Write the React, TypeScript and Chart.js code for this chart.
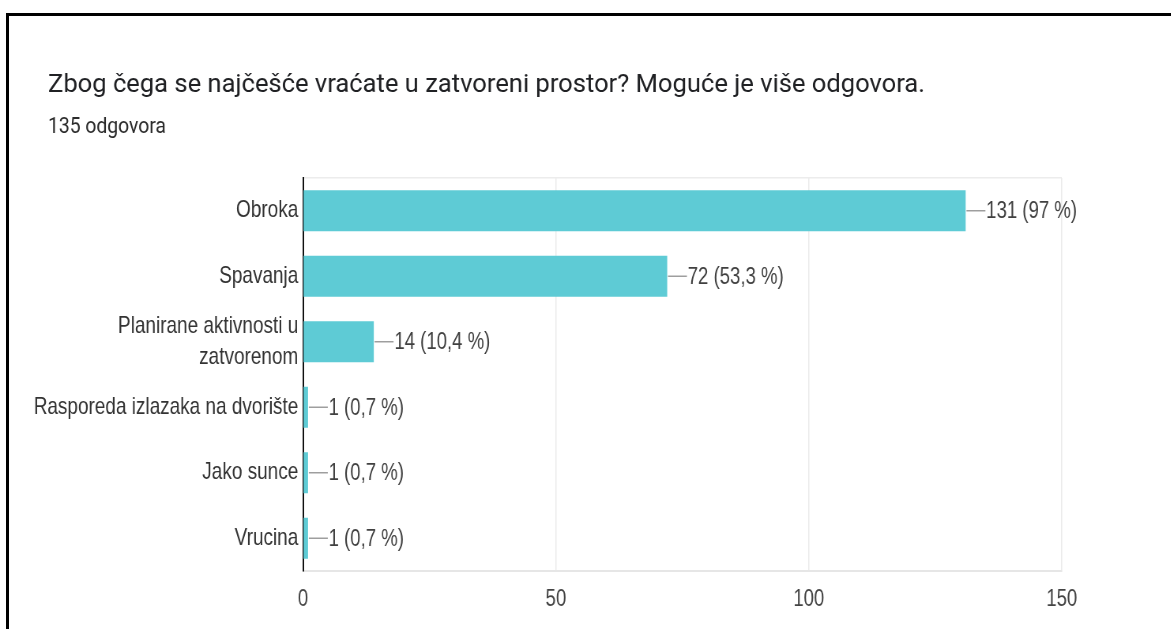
import React, { useEffect, useRef } from "react";
import { Chart, registerables } from "chart.js";

Chart.register(...registerables);

const categories: (string | string[])[] = [
  "Obroka",
  "Spavanja",
  ["Planirane aktivnosti u", "zatvorenom"],
  "Rasporeda izlazaka na dvorište",
  "Jako sunce",
  "Vrucina",
];
const counts = [131, 72, 14, 1, 1, 1];
const totalResponses = 135;
const xTicks = [0, 50, 100, 150];
const titleText = "Zbog čega se najčešće vraćate u zatvoreni prostor? Moguće je više odgovora.";
const subtitleText = `${totalResponses} odgovora`;

const SQUEEZE = 0.79;
const W = 1482;
const H = 629;
const LABEL_FONT = "'Liberation Sans', Arial, sans-serif";
const TITLE_FONT = "Roboto, 'Noto Sans', sans-serif";

function pctLabel(v: number): string {
  const p = Math.round((v / totalResponses) * 1000) / 10;
  const s = Number.isInteger(p) ? String(p) : p.toFixed(1).replace(".", ",");
  return `${v} (${s} %)`;
}

function drawFitted(ctx: CanvasRenderingContext2D, text: string, x: number, y: number, font: string, targetW: number) {
  ctx.font = font;
  const w = ctx.measureText(text).width;
  const k = targetW / SQUEEZE / w;
  ctx.save();
  ctx.translate(x, y);
  ctx.scale(k, 1);
  ctx.fillText(text, 0, 0);
  ctx.restore();
}

const headerText = {
  id: "headerText",
  afterDraw(chart: any) {
    const ctx = chart.ctx as CanvasRenderingContext2D;
    ctx.save();
    ctx.fillStyle = "#202124";
    ctx.textAlign = "left";
    ctx.textBaseline = "alphabetic";
    drawFitted(ctx, titleText, 48 / SQUEEZE, 92, `26.5px ${TITLE_FONT}`, 877);
    ctx.fillStyle = "#2b2b2b";
    drawFitted(ctx, subtitleText, 48 / SQUEEZE, 133, `22.5px ${TITLE_FONT}`, 118);
    ctx.restore();
  },
};

const valueLabels = {
  id: "valueLabels",
  afterDatasetsDraw(chart: any) {
    const ctx = chart.ctx;
    const meta = chart.getDatasetMeta(0);
    ctx.save();
    meta.data.forEach((bar: any, i: number) => {
      const x = bar.x;
      const y = bar.y;
      ctx.strokeStyle = "#9e9e9e";
      ctx.lineWidth = 1.5;
      ctx.beginPath();
      ctx.moveTo(x + 1, y);
      ctx.lineTo(x + 25, y);
      ctx.stroke();
      ctx.fillStyle = "#404040";
      ctx.font = `23.5px ${LABEL_FONT}`;
      ctx.textBaseline = "middle";
      ctx.textAlign = "left";
      ctx.fillText(pctLabel(counts[i]), x + 26, y + 1);
    });
    ctx.restore();
  },
};

export default function App() {
  const canvasRef = useRef<HTMLCanvasElement | null>(null);

  useEffect(() => {
    document.body.style.margin = "0";
    const canvas = canvasRef.current;
    if (!canvas) return;
    const chart = new Chart(canvas, {
      type: "bar",
      data: {
        labels: categories,
        datasets: [
          {
            data: counts,
            backgroundColor: "#5ECBD5",
            borderWidth: 0,
            categoryPercentage: 1,
            barPercentage: 0.625,
          },
        ],
      },
      options: {
        indexAxis: "y",
        responsive: false,
        animation: false,
        devicePixelRatio: 1,
        layout: { padding: { left: 0, right: 138, top: 178, bottom: 0 } },
        plugins: {
          legend: { display: false },
          tooltip: { enabled: false },
          title: { display: false },
          subtitle: { display: false },
        },
        scales: {
          x: {
            min: 0,
            max: 150,
            afterBuildTicks(scale: any) {
              scale.ticks = xTicks.map((v) => ({ value: v }));
            },
            afterFit(scale: any) {
              scale.height = 58;
            },
            ticks: {
              color: "#444444",
              font: { family: LABEL_FONT, size: 23.5 },
              padding: 14,
              maxRotation: 0,
            },
            grid: { color: "#ebebeb", lineWidth: 1.5, drawTicks: false },
            border: { display: true, color: "#e6e6e6", width: 2 },
          },
          y: {
            afterFit(scale: any) {
              scale.width = 383.5;
            },
            ticks: {
              color: "#333333",
              font: { family: LABEL_FONT, size: 24, lineHeight: 1.27 },
              padding: 6,
            },
            grid: {
              display: true,
              drawTicks: false,
              offset: true,
              lineWidth: 1.5,
              color: (c: any) => (c.index === 0 ? "#ececec" : "rgba(0,0,0,0)"),
            },
            border: { display: true, color: "#111111", width: 2 },
          },
        },
      },
      plugins: [valueLabels, headerText],
    });
    return () => chart.destroy();
  }, []);

  return (
    <div style={{ position: "fixed", left: 0, top: 0, width: 1171, height: 629, background: "#ffffff", overflow: "hidden" }}>
      <div
        style={{
          position: "absolute",
          left: 0,
          top: 0,
          width: W,
          height: H,
          transform: `scaleX(${SQUEEZE})`,
          transformOrigin: "0 0",
        }}
      >
        <canvas ref={canvasRef} width={W} height={H} />
      </div>
      <div style={{ position: "absolute", left: 6, top: 13, width: 1165, height: 3, background: "#000" }} />
      <div style={{ position: "absolute", left: 6, top: 13, width: 3, height: 616, background: "#000" }} />
    </div>
  );
}
